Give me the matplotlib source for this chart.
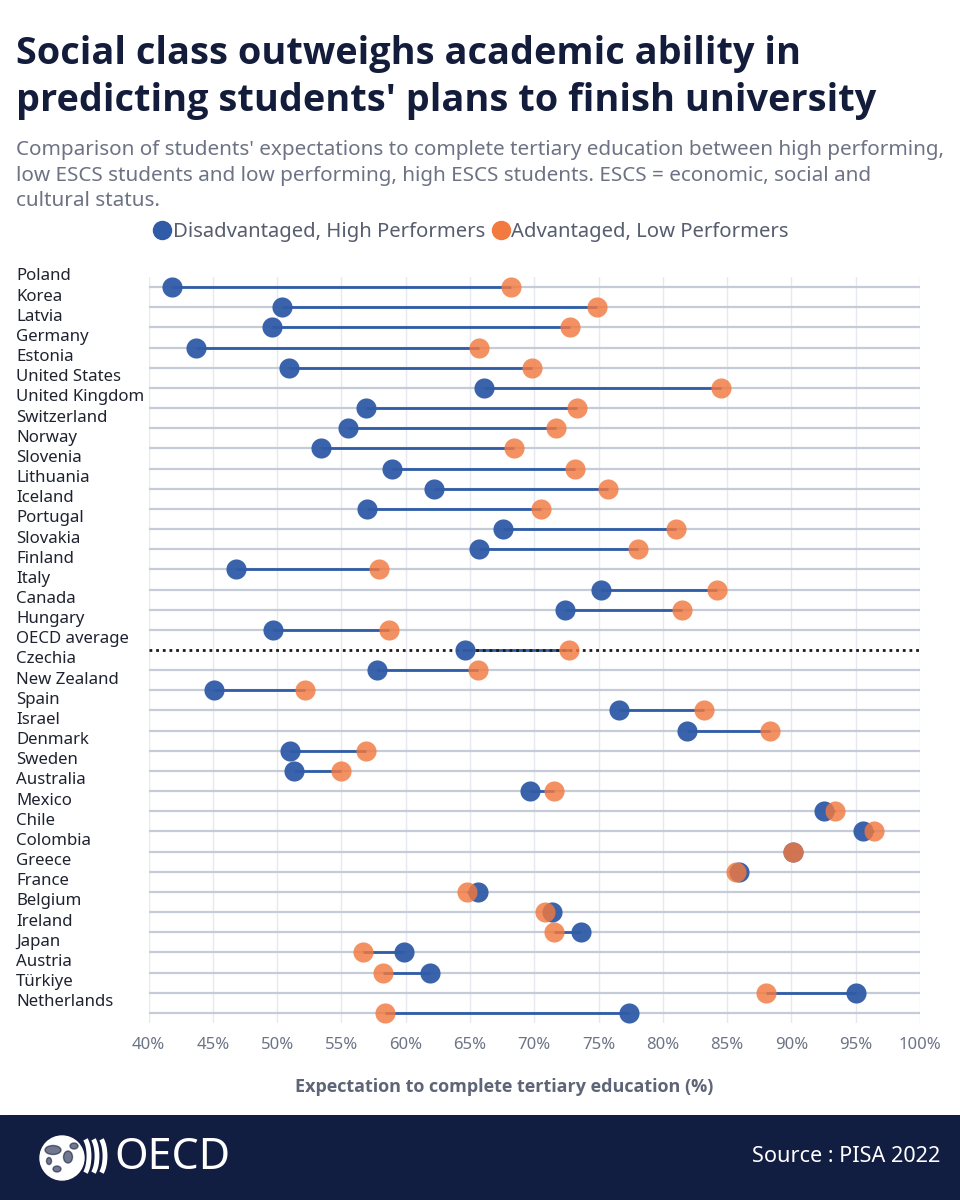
import matplotlib
matplotlib.use("Agg")
import matplotlib.pyplot as plt
from matplotlib import font_manager
from matplotlib.lines import Line2D
from matplotlib.patches import Circle, Arc, Rectangle, Ellipse
import matplotlib.transforms as mtransforms

plt.rcParams['font.family'] = ['Noto Sans', 'DejaVu Sans']

countries = ['Poland', 'Korea', 'Latvia', 'Germany', 'Estonia', 'United States',
             'United Kingdom', 'Switzerland', 'Norway', 'Slovenia', 'Lithuania',
             'Iceland', 'Portugal', 'Slovakia', 'Finland', 'Italy', 'Canada',
             'Hungary', 'OECD average', 'Czechia', 'New Zealand', 'Spain', 'Israel',
             'Denmark', 'Sweden', 'Australia', 'Mexico', 'Chile', 'Colombia',
             'Greece', 'France', 'Belgium', 'Ireland', 'Japan', 'Austria',
             'Türkiye', 'Netherlands']
# Disadvantaged, High Performers (%)
disadv_high = [41.8, 50.4, 49.6, 43.7, 50.9, 66.1, 56.9, 55.5, 53.4, 58.9, 62.2,
               57.0, 67.6, 65.7, 46.8, 75.2, 72.4, 49.7, 64.6, 57.8, 45.1, 76.6,
               81.9, 51.0, 51.3, 69.7, 92.5, 95.6, 90.1, 85.9, 65.6, 71.4, 73.6,
               59.9, 61.9, 95.0, 77.4]
# Advantaged, Low Performers (%)
adv_low = [68.2, 74.9, 72.8, 65.7, 69.8, 84.5, 73.3, 71.7, 68.4, 73.2, 75.7,
           70.5, 81.0, 78.1, 57.9, 84.2, 81.5, 58.7, 72.7, 65.6, 52.2, 83.2,
           88.3, 56.9, 55.0, 71.5, 93.4, 96.4, 90.1, 85.7, 64.8, 70.8, 71.5,
           56.7, 58.2, 88.0, 58.4]
xticks = list(range(40, 101, 5))

BLUE = '#2f5ba7'
ORANGE = '#f2793f'
NAVY = '#121d42'
GRAY_TXT = '#6b7385'


# pick a family that really has a bold face for the title
def bold_family():
    for fam in ['Noto Sans', 'Open Sans', 'Lato', 'Roboto', 'Liberation Sans', 'DejaVu Sans']:
        for f in font_manager.fontManager.ttflist:
            w = f.weight if isinstance(f.weight, int) else 700 if 'bold' in str(f.weight) else 400
            if f.name == fam and w >= 600 and f.style == 'normal':
                return fam
    return 'DejaVu Sans'


BOLD = [bold_family(), 'DejaVu Sans']

W, H = 960, 1200
fig = plt.figure(figsize=(9.6, 12), dpi=100)
fig.patch.set_facecolor('white')

# titles
fig.text(16/W, 1-64/H, "Social class outweighs academic ability in",
         fontsize=27.3, fontweight='bold', family=BOLD, color='#131d3b', va='baseline')
fig.text(16/W, 1-111/H, "predicting students' plans to finish university",
         fontsize=27.3, fontweight='bold', family=BOLD, color='#131d3b', va='baseline')
subtitle = ["Comparison of students' expectations to complete tertiary education between high performing,",
            "low ESCS students and low performing, high ESCS students. ESCS = economic, social and",
            "cultural status."]
for k, line in enumerate(subtitle):
    fig.text(16/W, 1-(155 + 25.5*k)/H, line, fontsize=14.9, color='#6d7384', va='baseline')

handles = [Line2D([], [], marker='o', ls='', color=BLUE, markersize=13),
           Line2D([], [], marker='o', ls='', color=ORANGE, markersize=13)]
fig.legend(handles, ['Disadvantaged, High Performers', 'Advantaged, Low Performers'],
           loc='center', bbox_to_anchor=(471/W, 1-232/H), ncol=2, frameon=False,
           handletextpad=0.05, columnspacing=0.35, handlelength=0.9,
           prop={'size': 14.6}, labelcolor='#555d6e')

# main axes
ax = fig.add_axes([148.5/W, 1-1023/H, (920-148.5)/W, (1023-277)/H])
n = len(countries)
ax.set_xlim(40, 100)
ax.set_ylim(n - 0.5, -0.5)
ax.set_xticks(xticks)
ax.set_xticklabels([f'{t}%' for t in xticks])
ax.set_yticks([])
ax.tick_params(axis='x', length=0, pad=10, labelsize=12, labelcolor=GRAY_TXT)
ax.grid(axis='x', color='#e6e9ef', lw=1)
ax.set_axisbelow(True)
for s in ax.spines.values():
    s.set_visible(False)

ys = list(range(n))
for i, c in enumerate(countries):
    if c == 'OECD average':
        ax.plot([40, 100], [i, i], color='#1a1a1a', ls=(0, (1, 1.4)), lw=2, zorder=2.5)
    else:
        ax.axhline(i, color='#c6ccd7', lw=1.6, zorder=1)

ax.hlines(ys, disadv_high, adv_low, color=BLUE, lw=2, zorder=2)
ax.scatter(disadv_high, ys, s=210, color=BLUE, alpha=0.95, linewidths=0, zorder=3)
ax.scatter(adv_low, ys, s=210, color=ORANGE, alpha=0.82, linewidths=0, zorder=4)

lab_tr = mtransforms.blended_transform_factory(fig.transFigure, ax.transData)
for i, c in enumerate(countries):
    ax.text(16/W, i - 0.53, c, transform=lab_tr, ha='left', va='center',
            fontsize=12.1, color='#1f2330', clip_on=False)

fig.text(504/W, 1-1087/H, 'Expectation to complete tertiary education (%)',
         ha='center', va='center', fontsize=13, fontweight='bold', family=BOLD,
         color='#5d6577')

# footer band with logo
fa = fig.add_axes([0, 0, 1, 85/H])
fa.set_xlim(0, W)
fa.set_ylim(1200, 1115)
fa.axis('off')
fa.add_patch(Rectangle((0, 1115), W, 85, color=NAVY, zorder=0))
fa.add_patch(Circle((62, 1158), 22, color='white', zorder=1))
for (ex, ey, ew, eh) in [(53, 1150, 16, 9), (68, 1157, 9, 12), (57, 1169, 8, 6),
                         (74, 1146, 8, 6), (49, 1161, 5, 7)]:
    fa.add_patch(Ellipse((ex, ey), ew, eh, color=NAVY, alpha=0.6, zorder=2))
for dx in (81, 89, 97):
    fa.add_patch(Arc((dx, 1156), 16, 40, theta1=-75, theta2=75, color='white', lw=3.5, zorder=2))
fa.text(114, 1158, 'OECD', color='white', fontsize=31, va='center', ha='left')
fa.text(940, 1157, 'Source : PISA 2022', color='white', fontsize=15.6, va='center', ha='right')

fig.savefig('out.png', dpi=100)
